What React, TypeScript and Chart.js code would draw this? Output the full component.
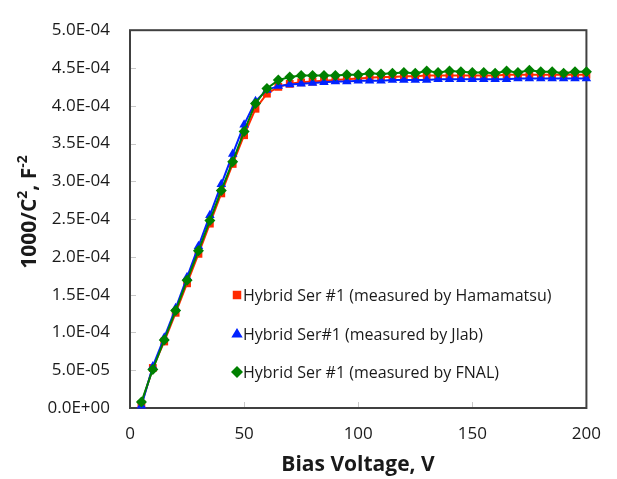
import React, { useEffect, useRef } from 'react';
import { Chart, registerables } from 'chart.js';

Chart.register(...registerables);

const voltages = [5, 10, 15, 20, 25, 30, 35, 40, 45, 50, 55, 60, 65, 70, 75, 80, 85, 90, 95, 100,
  105, 110, 115, 120, 125, 130, 135, 140, 145, 150, 155, 160, 165, 170, 175, 180, 185, 190, 195, 200];

const hamamatsu = [0.05e-4, 0.53e-4, 0.88e-4, 1.26e-4, 1.65e-4, 2.04e-4, 2.44e-4, 2.84e-4, 3.23e-4, 3.61e-4,
  3.96e-4, 4.16e-4, 4.25e-4, 4.29e-4, 4.31e-4, 4.32e-4, 4.33e-4, 4.34e-4, 4.35e-4, 4.36e-4,
  4.37e-4, 4.38e-4, 4.38e-4, 4.39e-4, 4.39e-4, 4.40e-4, 4.40e-4, 4.40e-4, 4.40e-4, 4.40e-4,
  4.40e-4, 4.40e-4, 4.41e-4, 4.41e-4, 4.41e-4, 4.41e-4, 4.41e-4, 4.41e-4, 4.41e-4, 4.41e-4];

const jlab = [0.03e-4, 0.55e-4, 0.93e-4, 1.32e-4, 1.73e-4, 2.14e-4, 2.55e-4, 2.96e-4, 3.36e-4, 3.75e-4,
  4.06e-4, 4.21e-4, 4.26e-4, 4.28e-4, 4.29e-4, 4.30e-4, 4.31e-4, 4.32e-4, 4.32e-4, 4.33e-4,
  4.33e-4, 4.33e-4, 4.34e-4, 4.34e-4, 4.34e-4, 4.34e-4, 4.35e-4, 4.35e-4, 4.35e-4, 4.35e-4,
  4.35e-4, 4.35e-4, 4.35e-4, 4.36e-4, 4.36e-4, 4.36e-4, 4.36e-4, 4.36e-4, 4.36e-4, 4.36e-4];

const fnal = [0.08e-4, 0.51e-4, 0.90e-4, 1.29e-4, 1.69e-4, 2.08e-4, 2.48e-4, 2.88e-4, 3.26e-4, 3.66e-4,
  4.03e-4, 4.23e-4, 4.34e-4, 4.38e-4, 4.40e-4, 4.40e-4, 4.40e-4, 4.40e-4, 4.41e-4, 4.41e-4,
  4.43e-4, 4.42e-4, 4.43e-4, 4.44e-4, 4.43e-4, 4.46e-4, 4.44e-4, 4.46e-4, 4.45e-4, 4.44e-4,
  4.44e-4, 4.43e-4, 4.46e-4, 4.44e-4, 4.47e-4, 4.45e-4, 4.45e-4, 4.43e-4, 4.45e-4, 4.45e-4];

const seriesLabels = [
  'Hybrid Ser #1 (measured by Hamamatsu)',
  'Hybrid Ser#1 (measured by Jlab)',
  'Hybrid Ser #1 (measured by FNAL)',
];
const seriesColors = ['#FF2A00', '#0022FF', '#008000'];
const seriesMarkers = ['rect', 'triangle', 'rectRot'];

const xTitle = 'Bias Voltage, V';
const yTitleParts = [
  { text: '1000/C', sup: false },
  { text: '2', sup: true },
  { text: ', F', sup: false },
  { text: '-2', sup: true },
];

const FONT = "'Open Sans', sans-serif";

const formatSci = (v: number) => {
  if (Math.abs(v) < 1e-12) return '0.0E+00';
  const s = v.toExponential(1);
  const [m, e] = s.split('e');
  const sign = e[0] === '-' ? '-' : '+';
  const digits = e.replace(/[+-]/, '').padStart(2, '0');
  return `${m}E${sign}${digits}`;
};

function drawMarker(ctx: CanvasRenderingContext2D, kind: string, x: number, y: number, r: number, color: string) {
  ctx.fillStyle = color;
  ctx.beginPath();
  if (kind === 'rect') {
    const s = r * Math.SQRT1_2;
    ctx.rect(x - s, y - s, 2 * s, 2 * s);
  } else if (kind === 'triangle') {
    ctx.moveTo(x, y - r);
    ctx.lineTo(x + r * 0.95, y + r * 0.6);
    ctx.lineTo(x - r * 0.95, y + r * 0.6);
    ctx.closePath();
  } else {
    ctx.moveTo(x, y - r);
    ctx.lineTo(x + r, y);
    ctx.lineTo(x, y + r);
    ctx.lineTo(x - r, y);
    ctx.closePath();
  }
  ctx.fill();
}

const framePlugin = {
  id: 'framePlugin',
  beforeDatasetsDraw(chart: any) {
    const { ctx, chartArea: a, scales } = chart;
    ctx.save();
    ctx.strokeStyle = '#c8c8c8';
    ctx.lineWidth = 1;
    scales.y.ticks.forEach((t: any) => {
      const py = Math.round(scales.y.getPixelForValue(t.value)) + 0.5;
      ctx.beginPath();
      ctx.moveTo(a.left, py);
      ctx.lineTo(a.left + 6, py);
      ctx.stroke();
    });
    scales.x.ticks.forEach((t: any) => {
      const px = Math.round(scales.x.getPixelForValue(t.value)) + 0.5;
      ctx.beginPath();
      ctx.moveTo(px, a.bottom);
      ctx.lineTo(px, a.bottom - 6);
      ctx.stroke();
    });
    ctx.strokeStyle = '#404040';
    ctx.lineWidth = 2;
    ctx.strokeRect(a.left, a.top, a.right - a.left, a.bottom - a.top);
    ctx.restore();
  },
  afterDraw(chart: any) {
    const { ctx } = chart;
    ctx.save();
    // legend
    ctx.font = `16px ${FONT}`;
    ctx.textBaseline = 'middle';
    ctx.textAlign = 'left';
    const rows = [295, 334, 372];
    seriesLabels.forEach((lab, i) => {
      drawMarker(ctx, seriesMarkers[i], 237, rows[i], 6, seriesColors[i]);
      ctx.fillStyle = '#1a1a1a';
      ctx.fillText(lab, 243, rows[i] + 1);
    });
    // x title
    ctx.font = `bold 21px ${FONT}`;
    ctx.textAlign = 'center';
    ctx.fillStyle = '#1a1a1a';
    ctx.fillText(xTitle, 358, 465);
    // y title, rotated
    ctx.translate(30, 212);
    ctx.rotate(-Math.PI / 2);
    const big = `bold 21px ${FONT}`;
    const small = `bold 14px ${FONT}`;
    let total = 0;
    yTitleParts.forEach((p) => {
      ctx.font = p.sup ? small : big;
      total += ctx.measureText(p.text).width;
    });
    let cx = -total / 2;
    ctx.textAlign = 'left';
    yTitleParts.forEach((p) => {
      ctx.font = p.sup ? small : big;
      ctx.fillText(p.text, cx, p.sup ? -7 : 0);
      cx += ctx.measureText(p.text).width;
    });
    ctx.restore();
  },
};

export default function App() {
  const ref = useRef<HTMLCanvasElement | null>(null);
  useEffect(() => {
    document.body.style.margin = '0';
    const datasets = [hamamatsu, jlab, fnal].map((vals, i) => ({
      label: seriesLabels[i],
      data: voltages.map((v, j) => ({ x: v, y: vals[j] })),
      borderColor: seriesColors[i],
      backgroundColor: seriesColors[i],
      pointBackgroundColor: seriesColors[i],
      pointBorderColor: seriesColors[i],
      pointStyle: seriesMarkers[i],
      pointRadius: 5.5,
      pointBorderWidth: 0,
      borderWidth: 2,
      tension: 0,
      clip: false as any,
      order: 2 - i,
    }));
    const chart = new Chart(ref.current as HTMLCanvasElement, {
      type: 'line',
      data: { datasets },
      options: {
        animation: false,
        responsive: false,
        layout: { padding: { top: 13, right: 30, left: 0, bottom: 0 } },
        plugins: { legend: { display: false }, tooltip: { enabled: false } },
        scales: {
          x: {
            type: 'linear',
            min: 0,
            max: 200,
            ticks: { stepSize: 50, padding: 16, color: '#1a1a1a', font: { family: FONT, size: 17 } },
            grid: { display: false, drawTicks: false },
            border: { display: false },
            afterFit: (s: any) => { s.height = 71; },
          },
          y: {
            type: 'linear',
            min: 0,
            max: 5e-4,
            ticks: {
              stepSize: 5e-5,
              padding: 20,
              color: '#1a1a1a',
              font: { family: FONT, size: 17 },
              callback: (v: any) => formatSci(Number(v)),
            },
            grid: { display: false, drawTicks: false },
            border: { display: false },
            afterFit: (s: any) => { s.width = 130; },
          },
        },
      },
      plugins: [framePlugin],
    });
    return () => chart.destroy();
  }, []);
  return (
    <div style={{ position: 'absolute', left: 0, top: 0, width: 617, height: 479 }}>
      <canvas ref={ref} width={617} height={479} />
    </div>
  );
}
